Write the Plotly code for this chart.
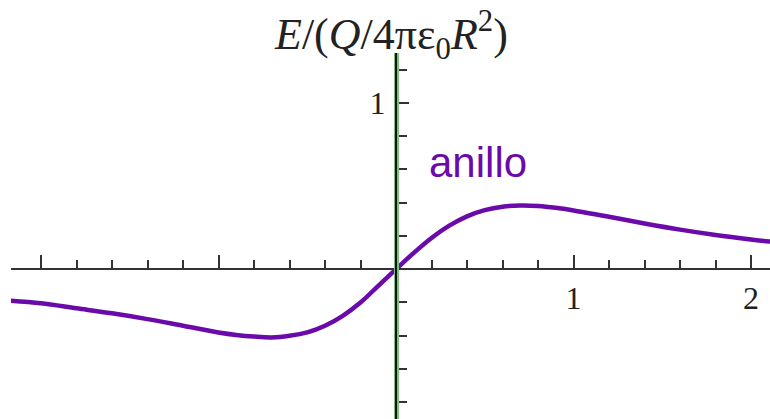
import plotly.graph_objects as go

# values
x_pos = [0.0, 0.1, 0.2, 0.3, 0.4, 0.5, 0.6, 0.7, 0.8, 0.9, 1.0, 1.2, 1.4, 1.6, 1.8, 2.0, 2.11]
e_pos = [0.0, 0.098, 0.188, 0.262, 0.318, 0.355, 0.376, 0.383, 0.380, 0.369, 0.353, 0.315, 0.275, 0.238, 0.206, 0.179, 0.166]
x_neg = [-2.17, -2.0, -1.8, -1.6, -1.4, -1.2, -1.0, -0.9, -0.8, -0.7, -0.6, -0.5, -0.4, -0.3, -0.2, -0.1]
e_neg = [-0.19, -0.205, -0.235, -0.265, -0.30, -0.34, -0.38, -0.395, -0.405, -0.41, -0.40, -0.38, -0.34, -0.28, -0.20, -0.10]

x_major = [-2, -1, 1, 2]
x_labels = ["", "", "1", "2"]
y_major = [1]
y_labels = ["1"]

x_min, x_max = -2.169, 2.107
y_min, y_max = -0.9006, 1.30

x_vals = x_neg + x_pos
e_vals = e_neg + e_pos

purple = "#6a0aaa"
ink = "#222222"

fig = go.Figure()
fig.add_trace(go.Scatter(x=x_vals, y=e_vals, mode="lines",
                         line=dict(color=purple, width=4.5, shape="spline"),
                         hoverinfo="skip", showlegend=False))

# x axis sits on y = 0, y axis on x = 0
y_top = 0.8735
x_pos_frac = (0 - y_min) / (y_max - y_min) * y_top
y_pos_frac = (0 - x_min) / (x_max - x_min)

fig.update_layout(
    width=770, height=419,
    margin=dict(l=11, r=0, t=0, b=0, autoexpand=False),
    paper_bgcolor="white", plot_bgcolor="white",
    xaxis=dict(range=[x_min, x_max], anchor="free", position=x_pos_frac,
               automargin=False,
               showgrid=False, zeroline=False, showline=True,
               linecolor="#333333", linewidth=2,
               tickvals=x_major, ticktext=x_labels,
               ticks="inside", ticklen=13, tickwidth=2, tickcolor="#333333",
               minor=dict(dtick=0.2, tick0=0, ticks="inside", ticklen=8,
                          tickwidth=2, tickcolor="#333333"),
               tickfont=dict(family="Liberation Serif", size=32, color=ink)),
    yaxis=dict(range=[y_min, y_max], domain=[0, y_top],
               anchor="free", position=y_pos_frac, automargin=False,
               showgrid=False, zeroline=False, showline=True,
               linecolor="#7cc07c", linewidth=5,
               tickvals=y_major, ticktext=y_labels, ticklabelstandoff=2,
               ticks="inside", ticklen=10, tickwidth=2, tickcolor="#333333",
               minor=dict(dtick=0.2, tick0=0, ticks="inside", ticklen=8,
                          tickwidth=2, tickcolor="#333333"),
               tickfont=dict(family="Liberation Serif", size=32, color=ink)),
)

fig.add_shape(type="line", xref="x", yref="y", x0=0, x1=0, y0=y_min, y1=y_max,
              line=dict(color="#111111", width=2), layer="above")

fig.add_annotation(text="<i>E</i>/(<i>Q</i>/4πε<sub>0</sub><i>R</i><sup>2</sup>)",
                   xref="paper", yref="paper", x=0.5, y=0.995, yanchor="top",
                   xanchor="center", showarrow=False,
                   font=dict(family="Liberation Serif", size=44, color=ink))
fig.add_annotation(text="anillo", xref="x", yref="y", x=0.46, y=0.64,
                   showarrow=False,
                   font=dict(family="Liberation Sans", size=42, color=purple))

fig.write_html("out.html", config={"displayModeBar": False},
               post_script="document.body.style.margin='0';")
